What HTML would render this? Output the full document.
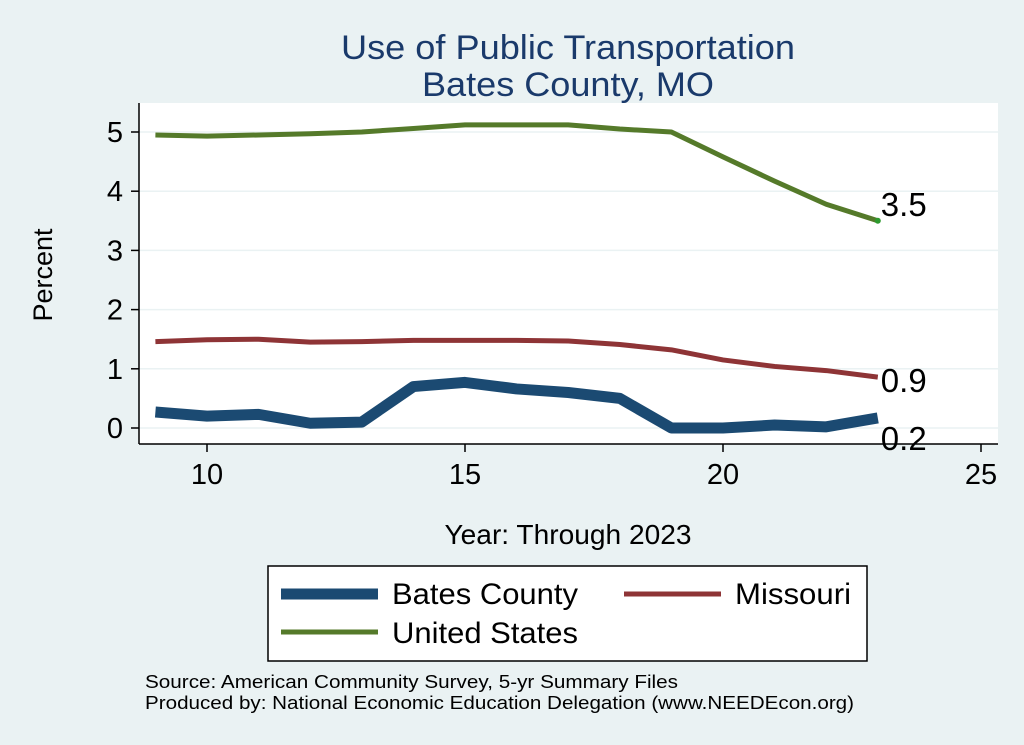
<!DOCTYPE html>
<html><head><meta charset="utf-8"><style>
body{margin:0;background:#eaf2f3;}
svg{display:block;font-family:"Liberation Sans",Arial,sans-serif;}
</style></head><body>
<svg id="c" width="1024" height="745">
<rect x="0" y="0" width="1024" height="745" fill="#eaf2f3"/>
<text x="568" y="59" font-size="34" text-anchor="middle" fill="#1a3a6b" textLength="454" lengthAdjust="spacingAndGlyphs">Use of Public Transportation</text>
<text x="568" y="96" font-size="34" text-anchor="middle" fill="#1a3a6b" textLength="292" lengthAdjust="spacingAndGlyphs">Bates County, MO</text>
<rect x="139" y="103" width="859" height="341" fill="#fff"/>
<g id="grid"></g><g id="axes"></g><g id="series"></g>
<text x="52" y="275" font-size="27" text-anchor="middle" transform="rotate(-90 52 275)">Percent</text>
<text x="568" y="544" font-size="28" text-anchor="middle" textLength="247" lengthAdjust="spacingAndGlyphs">Year: Through 2023</text>
<g>
<rect x="268" y="566" width="599" height="95" fill="#fff" stroke="#000" stroke-width="1.5"/>
<line x1="281" y1="594" x2="378" y2="594" stroke="#1b4a72" stroke-width="11"/>
<text x="392" y="604" font-size="30" textLength="186" lengthAdjust="spacingAndGlyphs">Bates County</text>
<line x1="624" y1="594" x2="721" y2="594" stroke="#8e3436" stroke-width="5"/>
<text x="735" y="604" font-size="30" textLength="116" lengthAdjust="spacingAndGlyphs">Missouri</text>
<line x1="281" y1="632" x2="378" y2="632" stroke="#557a2a" stroke-width="5"/>
<text x="392" y="643" font-size="30" textLength="186" lengthAdjust="spacingAndGlyphs">United States</text>
</g>
<text x="145" y="688" font-size="18" textLength="533" lengthAdjust="spacingAndGlyphs">Source: American Community Survey, 5-yr Summary Files</text>
<text x="145" y="709" font-size="18" textLength="709" lengthAdjust="spacingAndGlyphs">Produced by: National Economic Education Delegation (www.NEEDEcon.org)</text>
</svg>
<script>
const years=[9,10,11,12,13,14,15,16,17,18,19,20,21,22,23];
const usVals=[4.95,4.93,4.95,4.97,5.0,5.06,5.12,5.12,5.12,5.05,5.0,4.58,4.17,3.78,3.5];
const moVals=[1.46,1.49,1.5,1.45,1.46,1.48,1.48,1.48,1.47,1.41,1.32,1.15,1.04,0.97,0.86];
const batesVals=[0.27,0.2,0.23,0.08,0.1,0.7,0.77,0.66,0.6,0.5,0.0,0.0,0.05,0.02,0.17];
const xTicks=[10,15,20,25];
const yTicks=[0,1,2,3,4,5];
const NS="http://www.w3.org/2000/svg";
function X(v){return 207+(v-10)*51.6;}
function Y(v){return 428-v*59.2;}
function mk(t,a,p){const e=document.createElementNS(NS,t);for(const k in a)e.setAttribute(k,a[k]);p.appendChild(e);return e;}
const grid=document.getElementById('grid'),axes=document.getElementById('axes'),ser=document.getElementById('series');
yTicks.forEach(v=>{
 const g=mk('line',{x1:139,x2:998,y1:Y(v),y2:Y(v),stroke:'#eaf2f3','stroke-width':1.5},grid);
 
 
 mk('line',{x1:131,x2:139,y1:Y(v),y2:Y(v),stroke:'#000','stroke-width':1.5},axes);
 const t=mk('text',{x:123,y:Y(v)+10,'font-size':29,'text-anchor':'end'},axes);t.textContent=v;
 
 
});
xTicks.forEach(v=>{
 mk('line',{x1:X(v),x2:X(v),y1:444,y2:452,stroke:'#000','stroke-width':1.5},axes);
 const t=mk('text',{x:X(v),y:484,'font-size':29,'text-anchor':'middle'},axes);t.textContent=v;
 
 
});
mk('line',{x1:139,x2:139,y1:103,y2:444,stroke:'#000','stroke-width':1.5},axes);
mk('line',{x1:139,x2:998,y1:444,y2:444,stroke:'#000','stroke-width':1.5},axes);
function line(vals,col,w,name,label,dy,dot){
 const p=mk('polyline',{points:vals.map((v,i)=>X(years[i])+','+Y(v)).join(' '),fill:'none',stroke:col,'stroke-width':w,'stroke-linejoin':'round'},ser);
 
 
 const last=vals[vals.length-1];
 if(dot){const c=mk('circle',{cx:X(years[years.length-1]),cy:Y(last),r:3,fill:dot},ser);
  
  }
 const t=mk('text',{x:X(years[years.length-1])+3,y:Y(last)+dy,'font-size':33},ser);t.textContent=label(last);
 
 
}
line(usVals,'#557a2a',5,'us-line',v=>v.toFixed(1),-5,'#2e9a2e');
line(moVals,'#8e3436',5,'missouri-line',v=>v.toFixed(1),15);
line(batesVals,'#1b4a72',11,'bates-line',v=>v.toFixed(1),32);
</script>
</body></html>
